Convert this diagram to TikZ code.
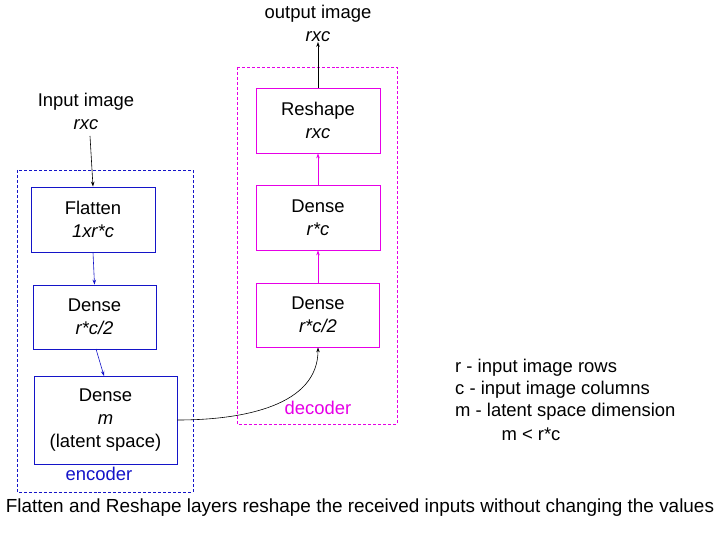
\documentclass[tikz,border=0pt]{standalone}
\usepackage{fontspec}
\setmainfont{Liberation Sans}
\usetikzlibrary{arrows.meta}
\definecolor{encblue}{RGB}{20,20,200}
\definecolor{decmag}{RGB}{230,0,230}
\begin{document}
\begin{tikzpicture}[x=1bp,y=-1bp,
  txt/.style={font=\fontsize{18.5}{23}\selectfont, align=center, inner sep=0pt},
  encbox/.style={txt, draw=encblue, line width=0.8pt},
  decbox/.style={txt, draw=decmag, line width=0.8pt},
  grp/.style={dash pattern=on 3pt off 2pt, line width=0.7pt},
  arr/.style={-{Stealth[length=5pt,width=3.5pt]}, line width=0.6pt}]
\useasboundingbox (0,0) rectangle (720,540);
\fill[white] (0,0) rectangle (720,540);
% group boxes
\draw[grp, draw=encblue] (17,170) rectangle (193,492);
\draw[grp, draw=decmag] (237,67) rectangle (397,424);
% encoder nodes
\node[encbox, minimum width=124bp, minimum height=65bp] (flat) at (93,219.5) {Flatten\\\textit{1xr*c}};
\node[encbox, minimum width=123bp, minimum height=64bp] (den1) at (94.5,317) {Dense\\\textit{r*c/2}};
\node[encbox, minimum width=143bp, minimum height=88bp] (denm) at (105.5,420) {Dense\\\textit{m}\\(latent space)};
\node[txt, text=encblue] (enc) at (99,474) {encoder};
% decoder nodes
\node[decbox, minimum width=124bp, minimum height=65bp] (resh) at (318,120.5) {Reshape\\\textit{rxc}};
\node[decbox, minimum width=124bp, minimum height=65bp] (den3) at (318,217.5) {Dense\\\textit{r*c}};
\node[decbox, minimum width=123bp, minimum height=64bp] (den2) at (318,315) {Dense\\\textit{r*c/2}};
\node[txt, text=decmag] (dec) at (318,408) {decoder};
% input / output labels
\node[txt] (inp) at (86,111.5) {Input image\\\textit{rxc}};
\node[txt] (out) at (318,23.5) {output image\\\textit{rxc}};
% connectors
\coordinate (inpS) at (90,136);
\draw[arr] (inpS) -- (flat.north -| 93,0);
\draw[arr, encblue] (flat.south) -- (den1.north);
\coordinate (den1S) at (96,349);
\draw[arr, encblue] (den1S) -- (104,376);
\draw[arr, decmag] (den2.north) -- (den3.south);
\draw[arr, decmag] (den3.north) -- (resh.south);
\draw[arr] (resh.north) -- (out.south);
\draw[arr] (denm.east) .. controls (245,420) and (318,405) .. (den2.south);
% legend
\node[txt, anchor=west] (leg1) at (455,368) {r - input image rows};
\node[txt, anchor=west] (leg2) at (455,390) {c - input image columns};
\node[txt, anchor=west] (leg3) at (455,412) {m - latent space dimension};
\node[txt] (ineq) at (531,434) {m {<} r*c};
\node[txt, font=\fontsize{19}{23}\selectfont] (note) at (360,508) {Flatten and Reshape layers reshape the received inputs without changing the values};
\end{tikzpicture}
\end{document}
